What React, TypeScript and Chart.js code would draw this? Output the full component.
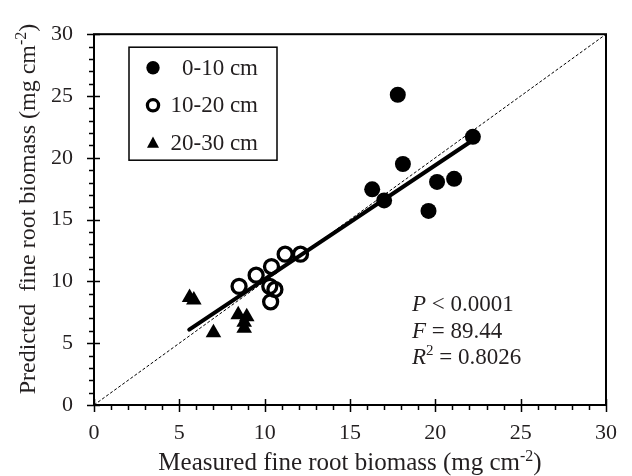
import React, { useEffect, useRef } from 'react';
import { Chart, registerables } from 'chart.js';

Chart.register(...registerables);

const depthLabels = ['0-10 cm', '10-20 cm', '20-30 cm'];
const measured0to10 = [16.3, 17.0, 17.8, 18.1, 19.6, 20.1, 21.1, 22.2];
const predicted0to10 = [17.45, 16.55, 25.1, 19.5, 15.7, 18.05, 18.3, 21.7];
const measured10to20 = [8.5, 9.5, 10.4, 11.2, 12.1, 10.3, 10.6, 10.35];
const predicted10to20 = [9.6, 10.5, 11.2, 12.2, 12.2, 9.6, 9.35, 8.35];
const measured20to30 = [5.6, 5.85, 7.0, 8.45, 8.95, 8.8, 8.8];
const predicted20to30 = [8.7, 8.5, 5.85, 7.3, 7.15, 6.7, 6.2];
const fitX = [5.58, 22.17];
const fitY = [6.1, 21.4];
const oneToOne = [0, 30];
const axisMin = 0;
const axisMax = 30;
const majorStep = 5;
const minorStep = 1;
const xTitle = ['Measured fine root biomass (mg cm', '-2', ')'];
const yTitle = ['Predicted  fine root biomass (mg cm', '-2', ')'];
const statLines = [
  [{ t: 'P', i: true }, { t: ' < 0.0001' }],
  [{ t: 'F', i: true }, { t: ' = 89.44' }],
  [{ t: 'R', i: true }, { t: '2', sup: true }, { t: ' = 0.8026' }],
];

const FONT = "'Liberation Serif', 'Times New Roman', serif";
const INK = '#231f20';

const toPts = (xs: number[], ys: number[]) => xs.map((x, i) => ({ x, y: ys[i] }));

function drawTitle(ctx: CanvasRenderingContext2D, parts: string[], size: number) {
  const base = `${size}px ${FONT}`;
  const sup = `${Math.round(size * 0.65)}px ${FONT}`;
  ctx.font = base;
  const w0 = ctx.measureText(parts[0]).width;
  const w2 = ctx.measureText(parts[2]).width;
  ctx.font = sup;
  const w1 = ctx.measureText(parts[1]).width;
  const total = w0 + w1 + w2;
  let x = -total / 2;
  ctx.textAlign = 'left';
  ctx.textBaseline = 'alphabetic';
  ctx.font = base;
  ctx.fillText(parts[0], x, 0);
  x += w0;
  ctx.font = sup;
  ctx.fillText(parts[1], x, -size * 0.38);
  x += w1;
  ctx.font = base;
  ctx.fillText(parts[2], x, 0);
}

const decorPlugin = {
  id: 'decor',
  afterDraw(chart: any) {
    const { ctx, chartArea } = chart;
    const xs = chart.scales.x;
    const ys = chart.scales.y;
    const { left, right, top, bottom } = chartArea;
    ctx.save();
    ctx.strokeStyle = '#000';
    ctx.lineWidth = 2;
    ctx.strokeRect(left, top, right - left, bottom - top);
    ctx.lineWidth = 1.5;
    ctx.beginPath();
    for (let v = axisMin; v <= axisMax; v += minorStep) {
      const px = Math.round(xs.getPixelForValue(v)) + 0.5;
      const py = Math.round(ys.getPixelForValue(v)) + 0.5;
      if (v % majorStep === 0) {
        ctx.moveTo(px, bottom - 6);
        ctx.lineTo(px, bottom + 7);
        ctx.moveTo(left - 7, py);
        ctx.lineTo(left + 6, py);
      } else {
        ctx.moveTo(px, bottom);
        ctx.lineTo(px, bottom + 5);
        ctx.moveTo(left - 5, py);
        ctx.lineTo(left, py);
      }
    }
    ctx.stroke();

    // legend
    const lx = left + 35;
    const ly = top + 13;
    ctx.lineWidth = 1.5;
    ctx.strokeRect(lx, ly, 148, 113);
    ctx.font = `23px ${FONT}`;
    ctx.textAlign = 'right';
    ctx.textBaseline = 'middle';
    chart.data.datasets.slice(0, 3).forEach((ds: any, i: number) => {
      const cy = ly + 20.5 + i * 37.6;
      const cx = lx + 24;
      ctx.fillStyle = '#000';
      ctx.strokeStyle = '#000';
      if (i === 0) {
        ctx.beginPath();
        ctx.arc(cx, cy, 6.7, 0, Math.PI * 2);
        ctx.fill();
      } else if (i === 1) {
        ctx.lineWidth = 3.3;
        ctx.beginPath();
        ctx.arc(cx, cy, 5.6, 0, Math.PI * 2);
        ctx.stroke();
      } else {
        ctx.beginPath();
        ctx.moveTo(cx, cy - 6.5);
        ctx.lineTo(cx + 6, cy + 4.8);
        ctx.lineTo(cx - 6, cy + 4.8);
        ctx.closePath();
        ctx.fill();
      }
      ctx.fillStyle = INK;
      ctx.fillText(ds.label, lx + 129, cy + 1);
    });

    // stats
    ctx.textAlign = 'left';
    ctx.textBaseline = 'middle';
    statLines.forEach((line, i) => {
      let x = 412;
      const y = 305 + i * 26.6;
      line.forEach((seg: any) => {
        if (seg.sup) {
          ctx.font = `15px ${FONT}`;
          ctx.fillText(seg.t, x, y - 7);
        } else {
          ctx.font = `${seg.i ? 'italic ' : ''}23px ${FONT}`;
          ctx.fillText(seg.t, x, y);
        }
        x += ctx.measureText(seg.t).width;
      });
    });

    // axis titles
    ctx.fillStyle = INK;
    ctx.save();
    ctx.translate((left + right) / 2, 470);
    drawTitle(ctx, xTitle, 25);
    ctx.restore();
    ctx.save();
    ctx.translate(35, 209);
    ctx.rotate(-Math.PI / 2);
    drawTitle(ctx, yTitle, 24);
    ctx.restore();
    ctx.restore();
  },
};

export default function App() {
  const ref = useRef<HTMLCanvasElement>(null);
  useEffect(() => {
    document.body.style.margin = '0';
    const canvas = ref.current!;
    const tickFont = { family: FONT, size: 22 };
    const chart = new Chart(canvas, {
      type: 'scatter',
      data: {
        datasets: [
          {
            label: depthLabels[0],
            data: toPts(measured0to10, predicted0to10),
            pointStyle: 'circle',
            pointRadius: 8,
            backgroundColor: '#000',
            borderWidth: 0,
            order: 1,
          },
          {
            label: depthLabels[1],
            data: toPts(measured10to20, predicted10to20),
            pointStyle: 'circle',
            pointRadius: 7,
            backgroundColor: 'rgba(0,0,0,0)',
            borderColor: '#000',
            borderWidth: 3.3,
            order: 2,
          },
          {
            label: depthLabels[2],
            data: toPts(measured20to30, predicted20to30),
            pointStyle: 'triangle',
            pointRadius: 9,
            backgroundColor: '#000',
            borderWidth: 0,
            order: 3,
          },
          {
            type: 'line',
            label: 'fit',
            data: toPts(fitX, fitY),
            borderColor: '#000',
            borderWidth: 4,
            borderCapStyle: 'round',
            pointRadius: 0,
            showLine: true,
            order: 5,
          } as any,
          {
            type: 'line',
            label: '1:1',
            data: toPts(oneToOne, oneToOne),
            borderColor: '#000',
            borderWidth: 1,
            borderDash: [3, 2],
            pointRadius: 0,
            showLine: true,
            order: 6,
          } as any,
        ],
      },
      options: {
        animation: false,
        responsive: false,
        events: [],
        layout: { padding: { left: 0, right: 13, top: 20, bottom: 0 } },
        plugins: { legend: { display: false }, tooltip: { enabled: false } },
        scales: {
          x: {
            type: 'linear',
            min: axisMin,
            max: axisMax,
            ticks: { stepSize: majorStep, font: tickFont, color: INK, padding: 15, maxRotation: 0 },
            grid: { display: false, drawTicks: false, tickLength: 0 },
            border: { display: false },
            afterFit: (s: any) => { s.height = 71; },
          },
          y: {
            type: 'linear',
            min: axisMin,
            max: axisMax,
            ticks: { stepSize: majorStep, font: tickFont, color: INK, padding: 21 },
            grid: { display: false, drawTicks: false, tickLength: 0 },
            border: { display: false },
            afterFit: (s: any) => { s.width = 94; },
          },
        },
      },
      plugins: [decorPlugin],
    });
    return () => chart.destroy();
  }, []);
  return (
    <div style={{ position: 'fixed', left: 0, top: 0, width: 632, height: 476, background: '#fff' }}>
      <canvas ref={ref} width={632} height={476} />
    </div>
  );
}
